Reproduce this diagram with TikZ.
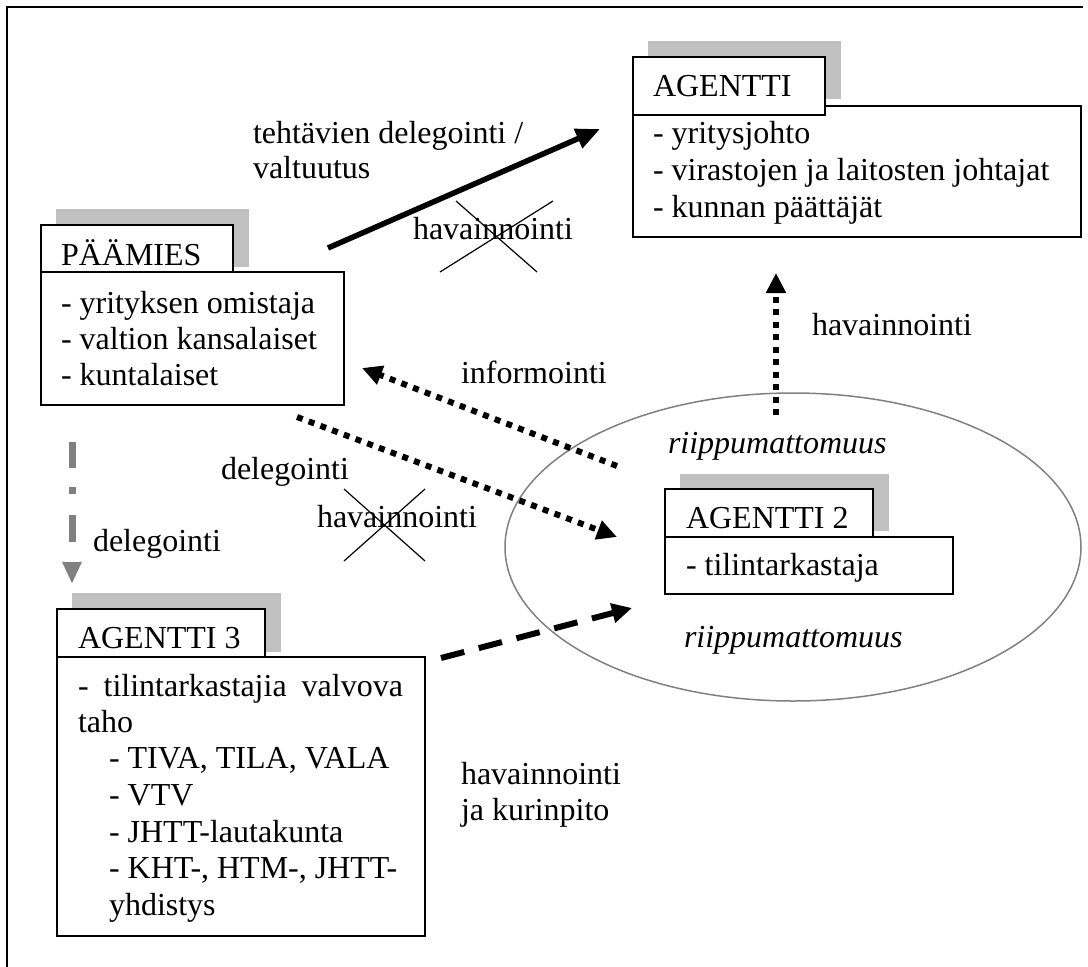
\documentclass[tikz,border=0pt]{standalone}
\usepackage{fontspec}
\setmainfont{Liberation Serif}
\usetikzlibrary{arrows.meta}
\definecolor{shade}{HTML}{C0C0C0}
\definecolor{ringgray}{HTML}{808080}
\begin{document}
\begin{tikzpicture}[x=1pt,y=-1pt,
  lbl/.style={anchor=base west, inner sep=0pt, outer sep=0pt, font=\fontsize{32}{37}\selectfont},
  ilbl/.style={lbl, font=\fontsize{32}{37}\selectfont\itshape},
  shadowbox/.style={fill=shade, draw=none},
  framebox/.style={draw, fill=white, line width=1.6pt, inner sep=0pt, outer sep=0pt, anchor=north west},
  tip/.style={-{Triangle[length=20pt,width=19pt]}},
  dotarrow/.style={tip, line width=6pt, dash pattern=on 6pt off 6.5pt},
  dasharrow/.style={tip, line width=6pt, dash pattern=on 24pt off 15pt},
  solidarrow/.style={-{Triangle[length=24pt,width=20pt]}, line width=5.5pt},
  grayarrow/.style={-{Triangle[length=22pt,width=18pt]}, draw=ringgray, line width=7pt,
     dash pattern=on 26pt off 19pt on 7pt off 21pt on 27pt off 30pt},
  crossline/.style={line width=1.2pt},
]
\useasboundingbox (0,0) rectangle (1088,967);
% outer frame (top and left edges)
\draw[line width=2pt] (7,967) -- (7,7) -- (1083,7);

% ellipse round AGENTTI 2
\draw[ringgray, line width=1.5pt] (793,547) ellipse [x radius=288, y radius=154];

% ---------- PÄÄMIES ----------
\fill[shadowbox] (56,209) rectangle (249,267);
\node[framebox, minimum width=303pt, minimum height=133pt] (pbody) at (41,272) {};
\node[framebox, minimum width=192pt, minimum height=47pt] (phead) at (41,225) {};
\node[lbl] (ptitle) at (61,265) {PÄÄMIES};
\node[lbl] (p1) at (61,313) {- yrityksen omistaja};
\node[lbl] (p2) at (61,349) {- valtion kansalaiset};
\node[lbl] (p3) at (61,385) {- kuntalaiset};

% ---------- AGENTTI ----------
\fill[shadowbox] (648,41) rectangle (841,99);
\node[framebox, minimum width=448pt, minimum height=131pt] (abody) at (633,106) {};
\node[framebox, minimum width=192pt, minimum height=58pt] (ahead) at (633,57) {};
\node[lbl] (atitle) at (653,96) {AGENTTI};
\node[lbl] (a1) at (653,143) {- yritysjohto};
\node[lbl] (a2) at (653,180) {- virastojen ja laitosten johtajat};
\node[lbl] (a3) at (653,217) {- kunnan päättäjät};

% ---------- AGENTTI 2 ----------
\fill[shadowbox] (680,474) rectangle (889,531);
\node[framebox, minimum width=288pt, minimum height=57pt] (bbody) at (665,537) {};
\node[framebox, minimum width=208pt, minimum height=48pt] (bhead) at (665,489) {};
\node[lbl] (btitle) at (686,528) {AGENTTI 2};
\node[lbl] (b1) at (686,575) {- tilintarkastaja};
\node[ilbl] (r1) at (668,453) {riippumattomuus};
\node[ilbl] (r2) at (684,647) {riippumattomuus};

% ---------- AGENTTI 3 ----------
\fill[shadowbox] (72,593) rectangle (281,652);
\node[framebox, minimum width=368pt, minimum height=279pt] (cbody) at (57,657) {};
\node[framebox, minimum width=208pt, minimum height=48pt] (chead) at (57,609) {};
\node[lbl] (ctitle) at (78,648) {AGENTTI 3};
\node[lbl] (c1) at (78,696) {\makebox[325pt][s]{- tilintarkastajia valvova}};
\node[lbl] (c2) at (78,732) {taho};
\node[lbl] (c3) at (109,768) {- TIVA, TILA, VALA};
\node[lbl] (c4) at (109,805) {- VTV};
\node[lbl] (c5) at (109,842) {- JHTT-lautakunta};
\node[lbl] (c6) at (109,878) {- KHT-, HTM-, JHTT-};
\node[lbl] (c7) at (109,915) {yhdistys};

% ---------- connector end points ----------
\coordinate (s1) at (328,248);  \coordinate (e1) at (600,129);
\coordinate (s2) at (617,466);  \coordinate (e2) at (362,368);
\coordinate (s3) at (297,417);  \coordinate (e3) at (617,537);
\coordinate (s4) at (441,658);  \coordinate (e4) at (632,608);
\coordinate (s5) at (776,415);  \coordinate (e5) at (776,273);
\coordinate (s6) at (72,442);   \coordinate (e6) at (72,584);

\draw[solidarrow] (s1) -- (e1);
\draw[dotarrow] (s2) -- (e2);
\draw[dotarrow] (s3) -- (e3);
\draw[dasharrow] (s4) -- (e4);
\draw[dotarrow] (s5) -- (e5);
\draw[grayarrow] (s6) -- (e6);

% ---------- labels ----------
\node[lbl] (l1) at (253,143) {tehtävien delegointi /};
\node[lbl] (l2) at (253,178) {valtuutus};
\node[lbl] (h1) at (413,239) {havainnointi};
\node[lbl] (inf) at (461,383) {informointi};
\node[lbl] (h2) at (812,335) {havainnointi};
\node[lbl] (d1) at (221,479) {delegointi};
\node[lbl] (h3) at (317,527) {havainnointi};
\node[lbl] (d2) at (93,551) {delegointi};
\node[lbl] (h4) at (461,784) {havainnointi};
\node[lbl] (jk) at (461,820) {ja kurinpito};

% crosses
\coordinate (x1a) at (456,201); \coordinate (x1b) at (537,272);
\coordinate (x1c) at (553,201); \coordinate (x1d) at (440,272);
\draw[crossline] (x1a) -- (x1b);
\draw[crossline] (x1c) -- (x1d);
\coordinate (x2a) at (344,489); \coordinate (x2b) at (425,561);
\coordinate (x2c) at (425,489); \coordinate (x2d) at (344,561);
\draw[crossline] (x2a) -- (x2b);
\draw[crossline] (x2c) -- (x2d);
\end{tikzpicture}
\end{document}
